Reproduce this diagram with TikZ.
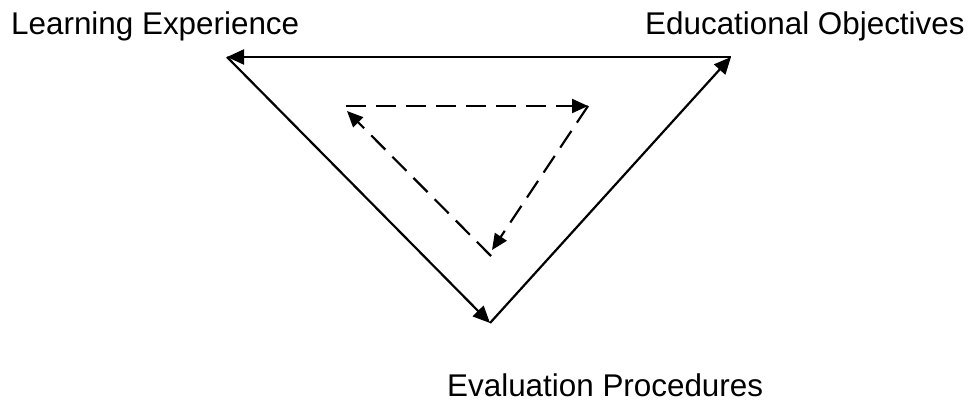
\documentclass[tikz,border=0pt]{standalone}
\usepackage{fontspec}
\setmainfont{Liberation Sans}
\usetikzlibrary{arrows.meta}
\definecolor{ink}{HTML}{000000}
\newcommand{\stagefont}{\fontsize{31.4}{37}\selectfont}

\begin{document}
\begin{tikzpicture}[x=1pt,y=-1pt,
  stage/.style={anchor=base west,inner sep=0,font=\stagefont,text=ink},
  mainflow/.style={ink,line width=2.2pt,-{Triangle[length=17pt,width=15pt]}},
  subflow/.style={ink,line width=2.2pt,dash pattern=on 20pt off 10pt,-{Triangle[length=16pt,width=14pt]}}]
\useasboundingbox (0,0) rectangle (971,404);
\node[stage] (learn) at (11,34.5) {Learning Experience};
\node[stage] (objec) at (645,34.5) {Educational Objectives};
\node[stage] (evalu) at (447,396) {Evaluation Procedures};
% outer cycle
\coordinate (le) at (227,57);
\coordinate (eo) at (731,57);
\coordinate (ep) at (490,323);
\draw[mainflow] (eo) -- (le);
\draw[mainflow] (le) -- (ep);
\draw[mainflow] (ep) -- (eo);
% inner cycle
\coordinate (ia) at (346,106);
\coordinate (ib) at (588,106);
\coordinate (ic) at (492,250);
\coordinate (id) at (491,256);
\coordinate (ie) at (347,111);
\draw[subflow] (ia) -- (ib);
\draw[subflow] (ib) -- (ic);
\draw[subflow] (id) -- (ie);
\end{tikzpicture}
\end{document}
